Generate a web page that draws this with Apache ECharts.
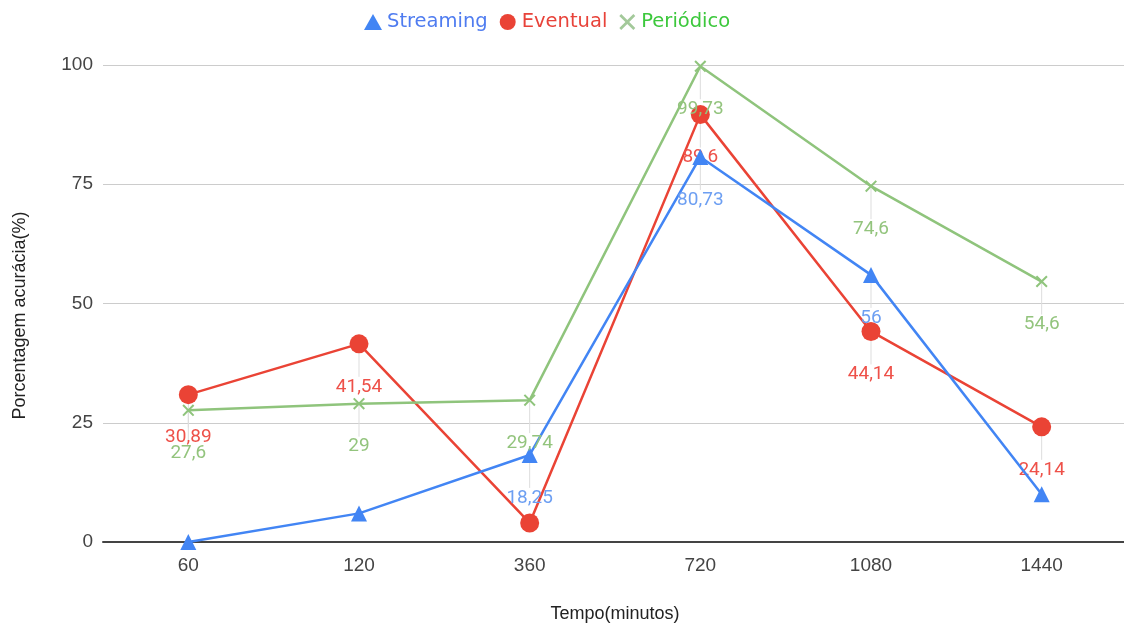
<!DOCTYPE html>
<html>
<head>
<meta charset="utf-8">
<script src="https://cdn.jsdelivr.net/npm/echarts@6/dist/echarts.min.js"></script>
<style>
  html, body { margin: 0; padding: 0; background: #fff; }
  #chart { width: 1124px; height: 628px; }
</style>
</head>
<body>
<div id="chart"></div>
<script>
// Tempo de coleta (minutos)
const categories = ['60', '120', '360', '720', '1080', '1440'];

// Porcentagem de acurácia por estratégia
const streamingVals = [0, 6, 18.25, 80.73, 56, 10];
const eventualVals  = [30.89, 41.54, 4, 89.6, 44.14, 24.14];
const periodicoVals = [27.6, 29, 29.74, 99.73, 74.6, 54.6];

// Pontos que exibem o rótulo de valor
const streamingShown = [false, false, true, true, true, false];
const eventualShown  = [true, true, false, true, true, true];
const periodicoShown = [true, true, true, true, true, true];

const yTicks = { min: 0, max: 100, interval: 25 };

const crossPath = 'path://M0,1.2 L1.2,0 L5,3.8 L8.8,0 L10,1.2 L6.2,5 L10,8.8 L8.8,10 L5,6.2 L1.2,10 L0,8.8 L3.8,5 Z';

const LABEL_DROP = 43;

function fmt(v) { return String(v).replace('.', ','); }

function buildData(vals, shown) {
  return vals.map((v, i) => ({ value: v, label: { show: shown[i] } }));
}

// Guias verticais entre cada ponto e o seu rótulo
const guideData = [];
[[streamingVals, streamingShown], [eventualVals, eventualShown], [periodicoVals, periodicoShown]]
  .forEach(([vals, shown]) => vals.forEach((v, i) => { if (shown[i]) guideData.push([i, v]); }));

function makeSeries(name, vals, shown, color, labelColor, symbol, symbolSize, z) {
  return {
    name: name,
    type: 'line',
    data: buildData(vals, shown),
    symbol: symbol,
    symbolSize: symbolSize,
    clip: false,
    z: z,
    lineStyle: { color: color, width: 2.5 },
    itemStyle: { color: color },
    label: {
      show: true,
      position: 'inside',
      color: labelColor,
      fontFamily: 'Roboto',
      fontSize: 19,
      formatter: p => fmt(p.value)
    },
    labelLayout: { dy: LABEL_DROP },
    emphasis: { disabled: true }
  };
}

const chart = echarts.init(document.getElementById('chart'), null, { renderer: 'canvas' });

chart.setOption({
  animation: false,
  backgroundColor: '#ffffff',
  legend: {
    top: 7,
    left: 359,
    itemGap: 12,
    itemWidth: 18,
    itemHeight: 16,
    textStyle: { fontFamily: 'DejaVu Sans', fontSize: 19.5 },
    data: [
      { name: 'Streaming', icon: 'triangle', textStyle: { color: '#4f7cf0' } },
      { name: 'Eventual', icon: 'circle', textStyle: { color: '#e8433a' } },
      { name: 'Periódico', icon: crossPath, itemStyle: { color: '#a3c99a' }, textStyle: { color: '#3cc83c' } }
    ]
  },
  grid: { left: 103, right: -3, top: 65, bottom: 86, outerBoundsMode: 'none' },
  xAxis: {
    type: 'category',
    data: categories,
    boundaryGap: true,
    name: 'Tempo(minutos)',
    nameLocation: 'middle',
    nameGap: 63,
    nameTextStyle: { fontFamily: 'Liberation Sans', fontSize: 18, color: '#222' },
    axisLine: { lineStyle: { color: '#444', width: 2 } },
    axisTick: { show: false },
    axisLabel: { fontFamily: 'Liberation Sans', fontSize: 19, color: '#444', margin: 14 },
    splitLine: { show: false }
  },
  yAxis: {
    type: 'value',
    min: yTicks.min,
    max: yTicks.max,
    interval: yTicks.interval,
    name: 'Porcentagem acurácia(%)',
    nameLocation: 'middle',
    nameGap: 74,
    nameRotate: 90,
    nameTextStyle: { fontFamily: 'Liberation Sans', fontSize: 18, color: '#222', padding: [0, 24, 0, 0] },
    axisLine: { show: false },
    axisTick: { show: false },
    axisLabel: { fontFamily: 'Liberation Sans', fontSize: 19, color: '#444', margin: 10 },
    splitLine: { lineStyle: { color: '#cccccc', width: 1 } }
  },
  series: [
    {
      type: 'custom',
      silent: true,
      z: 1,
      data: guideData,
      renderItem: (params, api) => {
        const p = api.coord([api.value(0), api.value(1)]);
        return {
          type: 'line',
          shape: { x1: p[0], y1: p[1], x2: p[0], y2: p[1] + LABEL_DROP - 10 },
          style: { stroke: '#dddddd', lineWidth: 1 }
        };
      }
    },
    makeSeries('Streaming', streamingVals, streamingShown, '#4285f4', '#6d9ff2', 'triangle', 16, 3),
    makeSeries('Eventual', eventualVals, eventualShown, '#ea4335', '#ee5149', 'circle', 19, 2),
    makeSeries('Periódico', periodicoVals, periodicoShown, '#8fc47c', '#93c47d', crossPath, 12, 4)
  ]
});
</script>
</body>
</html>
